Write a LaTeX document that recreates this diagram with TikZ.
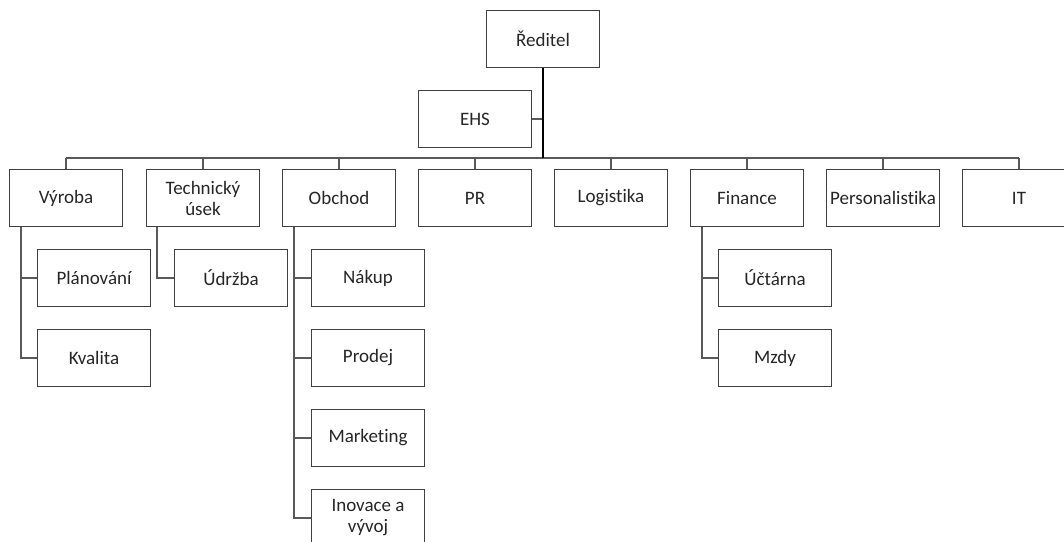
\documentclass[tikz,border=0pt]{standalone}
\usepackage{fontspec}
\setmainfont{Carlito}[Ligatures=NoCommon]
\begin{document}
\begin{tikzpicture}[x=1pt,y=-1pt,
  unit/.style={draw=black!75,line width=1pt,fill=white,text=black!85,
    minimum width=113pt,minimum height=57pt,inner sep=1pt,anchor=north west,
    align=center,font=\fontsize{19}{21}\selectfont},
  link/.style={draw=black!65,line width=1.2pt},
  trunk/.style={draw=black,line width=2.6pt}]
\useasboundingbox (0,0) rectangle (1064,541);
\clip (0,0) rectangle (1064,541);
\fill[white] (0,0) rectangle (1064,541);
\coordinate (bus) at (542,158);

% top of the hierarchy
\node[unit] (red) at (486,10) {Ředitel};
\node[unit] (ehs) at (418,90) {EHS};

% departments
\node[unit] (vyr) at (9,169) {Výroba};
\node[unit] (tech) at (146,169) {Technický\\úsek};
\node[unit] (obch) at (282,169) {Obchod};
\node[unit] (pr) at (418,169) {PR};
\node[unit] (log) at (554,169) {Logistika};
\node[unit] (fin) at (690,169) {Finance};
\node[unit] (pers) at (826,169) {Personalistika};
\node[unit] (it) at (962,169) {IT};

% sub-units
\node[unit] (plan) at (37,249) {Plánování};
\node[unit] (kval) at (37,329) {Kvalita};
\node[unit] (udr) at (174,249) {Údržba};
\node[unit] (nak) at (311,249) {Nákup};
\node[unit] (prod) at (311,329) {Prodej};
\node[unit] (mark) at (311,409) {Marketing};
\node[unit] (inov) at (311,489) {Inovace a\\vývoj};
\node[unit] (ucet) at (718,249) {Účtárna};
\node[unit] (mzdy) at (718,329) {Mzdy};

% connectors
\draw[link] (ehs.east) -- (ehs.east -| red.south);
\draw[link] (vyr.north |- bus) -- (it.north |- bus);
\foreach \d in {vyr,tech,obch,pr,log,fin,pers,it}
  \draw[link] (\d.north) -- (\d.north |- bus);
\draw[trunk] (red.south) -- (red.south |- bus);

\draw[link] ([xshift=12pt]vyr.south west) |- (plan.west);
\draw[link] ([xshift=12pt]vyr.south west) |- (kval.west);
\draw[link] ([xshift=11pt]tech.south west) |- (udr.west);
\draw[link] ([xshift=12pt]obch.south west) |- (nak.west);
\draw[link] ([xshift=12pt]obch.south west) |- (prod.west);
\draw[link] ([xshift=12pt]obch.south west) |- (mark.west);
\draw[link] ([xshift=12pt]obch.south west) |- (inov.west);
\draw[link] ([xshift=12pt]fin.south west) |- (ucet.west);
\draw[link] ([xshift=12pt]fin.south west) |- (mzdy.west);
\end{tikzpicture}
\end{document}
